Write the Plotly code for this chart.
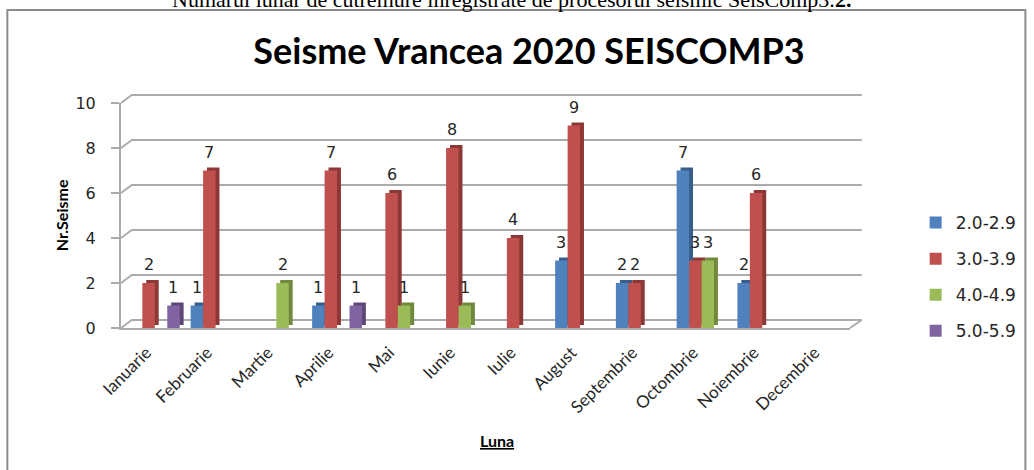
import plotly.graph_objects as go

months = ["Ianuarie", "Februarie", "Martie", "Aprilie", "Mai", "Iunie", "Iulie",
          "August", "Septembrie", "Octombrie", "Noiembrie", "Decembrie"]
series_names = ["2.0-2.9", "3.0-3.9", "4.0-4.9", "5.0-5.9"]
mag_2_0 = [0, 1, 0, 1, 0, 0, 0, 3, 2, 7, 2, 0]
mag_3_0 = [2, 7, 0, 7, 6, 8, 4, 9, 2, 3, 6, 0]
mag_4_0 = [0, 0, 2, 0, 1, 1, 0, 0, 0, 3, 0, 0]
mag_5_0 = [1, 0, 0, 1, 0, 0, 0, 0, 0, 0, 0, 0]
y_ticks = [0, 2, 4, 6, 8, 10]

series_values = [mag_2_0, mag_3_0, mag_4_0, mag_5_0]
front_colors = ["#4F81BD", "#C0504D", "#9BBB59", "#8064A2"]
side_colors = ["#385D8A", "#8C3836", "#71893F", "#5C4776"]

FONT = "Lato"
NUMFONT = "DejaVu Sans"
W, H = 1034, 470
L, R, T, B = 121, 169, 103, 142
pw = W - L - R
ph = H - T - B
cat_px = pw / 12

bar_w = 0.205
group_start = -0.41 + 3.5 / cat_px
depth_x = 4.0 / cat_px          # side face shift in category units
depth_y = 3.0 / (ph / 10)       # top face lift in value units
wall_dx = 11.0 / pw             # back wall offset (paper units)
wall_dy = 8.0 / ph
wall_right = (877 - L) / pw

fig = go.Figure()

# back wall gridlines (3D look)
for v in y_ticks:
    yp = v / 10
    fig.add_shape(type="path", xref="paper", yref="paper",
                  path=f"M 0 {yp} L {wall_dx} {yp + wall_dy} L {wall_right} {yp + wall_dy}",
                  line=dict(color="#ababab", width=2), layer="below")
# floor right edge
fig.add_shape(type="line", xref="paper", yref="paper", x0=1, y0=0, x1=wall_right, y1=wall_dy,
              line=dict(color="#ababab", width=2), layer="below")

for i, (name, vals) in enumerate(zip(series_names, series_values)):
    off = group_start + i * bar_w
    shadow_vals = [v if v else None for v in vals]
    fig.add_trace(go.Bar(
        x=months, y=shadow_vals, base=depth_y, width=bar_w, offset=off + depth_x,
        marker=dict(color=side_colors[i], line=dict(width=0)),
        showlegend=False, hoverinfo="skip", legendgroup=name))
    fig.add_trace(go.Bar(
        x=months, y=vals, width=bar_w, offset=off, name=name,
        marker=dict(color=front_colors[i], line=dict(width=0)),
        legendgroup=name))
    for j, v in enumerate(vals):
        if v:
            fig.add_annotation(x=j + off + bar_w / 2, y=v, xref="x", yref="y",
                               text=str(v), showarrow=False, yanchor="bottom",
                               xanchor="center", yshift=7,
                               font=dict(family=NUMFONT, size=16, color="#262626"))

# outer frame of the chart
x0p = (5 - L) / pw
x1p = (W + 10 - L) / pw
y0p = (H - B - (H + 10)) / ph
y1p = (H - B - 10) / ph
fig.add_shape(type="rect", xref="paper", yref="paper", x0=x0p, x1=x1p, y0=y0p, y1=y1p,
              line=dict(color="#8c8c8c", width=2), layer="below")

# caption (cut at the top of the page)
fig.add_annotation(text="Numărul lunar de cutremure înregistrate de procesorul seismic SeisComp3.<b>2.</b>",
                   xref="paper", yref="paper", x=(520 - L) / pw, y=(H - B - 14) / ph,
                   xanchor="center", yanchor="bottom", showarrow=False,
                   font=dict(family="Liberation Serif", size=22, color="#000000"))

fig.add_annotation(text="<b>Nr.Seisme</b>", textangle=-90, xref="paper", yref="paper",
                   x=(60 - L) / pw, y=(H - B - 215) / ph, xanchor="center", yanchor="middle",
                   showarrow=False, font=dict(family=FONT, size=16, color="#000000"))
fig.add_annotation(text="<b><u>Luna</u></b>", xref="paper", yref="paper",
                   x=(505 - L) / pw, y=(H - B - 440) / ph, xanchor="center", yanchor="middle",
                   showarrow=False, font=dict(family=FONT, size=16, color="#000000"))

fig.update_layout(
    width=W, height=H,
    margin=dict(l=L, r=R, t=T, b=B),
    paper_bgcolor="white", plot_bgcolor="rgba(0,0,0,0)",
    barmode="overlay",
    title=dict(text="<b>Seisme Vrancea 2020 SEISCOMP3</b>", x=529 / W, xanchor="center",
               y=1 - 51 / H, yanchor="middle", font=dict(family=FONT, size=36, color="#000000")),
    legend=dict(x=(932 - L) / pw, xanchor="left", y=(H - B - 205) / ph, yanchor="top",
                font=dict(family=NUMFONT, size=17, color="#262626"),
                traceorder="grouped", tracegroupgap=11, itemwidth=30),
    showlegend=True,
)
fig.update_xaxes(type="category", categoryorder="array", categoryarray=months,
                 range=[-0.5, 11.5], tickangle=-45, showgrid=False,
                 showline=True, linecolor="#ababab", linewidth=2, ticks="",
                 ticklabelstandoff=6, ticklabelshift=-5,
                 tickfont=dict(family=FONT, size=17, color="#262626"))
fig.update_yaxes(range=[0, 10], tickvals=y_ticks, showgrid=False,
                 showline=True, linecolor="#ababab", linewidth=2,
                 ticks="outside", ticklen=8, tickcolor="#ababab", tickwidth=2,
                 ticklabelstandoff=12, zeroline=False,
                 tickfont=dict(family=NUMFONT, size=16, color="#262626"))

fig.write_html("out.html", config={"displayModeBar": False},
               post_script="document.body.style.margin='0px';")
